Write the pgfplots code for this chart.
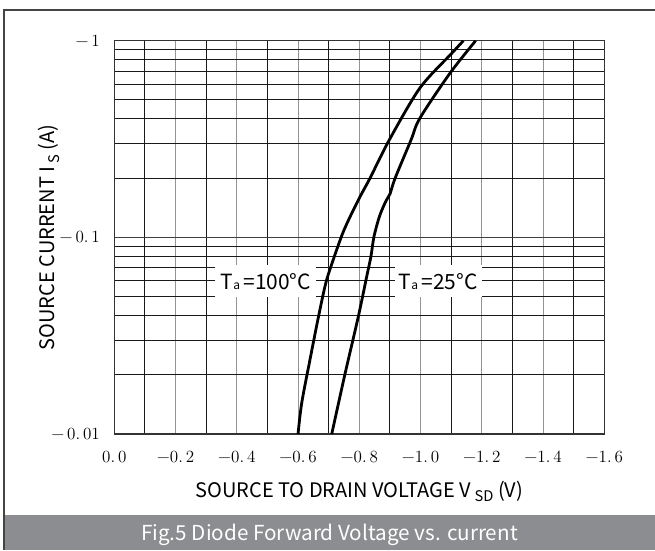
\documentclass[border=0pt]{standalone}
\usepackage{pgfplots}
\pgfplotsset{compat=1.18}
\usepackage{fontspec}
\newfontfamily\cjk{Noto Sans CJK SC}
\definecolor{capgray}{HTML}{8C8D90}
\definecolor{framegray}{HTML}{444444}
\begin{document}
\begin{tikzpicture}
\begin{scope}[x=0.75pt,y=0.75pt]
\useasboundingbox (-114.3,-116) rectangle (540.7,434);
\fill[capgray] (-110.3,-116) rectangle (541,-81);
\draw[framegray,line width=1.1pt] (-110.3,-116) -- (-110.3,424) -- (541,424);
\node[text=white,font={\cjk\fontsize{15.5}{18}\selectfont}] at (215.2,-101) {Fig.5 Diode Forward Voltage vs. current};
\end{scope}
\begin{axis}[
  at={(0,0)}, anchor=south west,
  scale only axis, width=367.5pt, height=295pt,
  xmin=0, xmax=1.6, ymode=log, ymin=0.01, ymax=1,
  xtick={0,0.2,...,1.6},
  xticklabels={0.\,0,−0.\,2,−0.\,4,−0.\,6,−0.\,8,−1.\,0,−1.\,2,−1.\,4,−1.\,6},
  minor x tick num=1,
  ytick={0.01,0.1,1},
  yticklabels={−\,0.\,01,−\,0.\,1,−\,1},
  major tick length=0pt, minor tick length=0pt,
  xmajorgrids, xminorgrids, ymajorgrids, yminorgrids,
  major x grid style={draw=black!42, line width=0.75pt},
  minor x grid style={draw=black!90, line width=0.75pt},
  major y grid style={draw=black!75, line width=0.75pt},
  minor y grid style={draw=black!90, line width=0.75pt},
  axis line style={draw=black!80, line width=0.8pt},
  xticklabel style={anchor=base, yshift=-21pt, font=\rmfamily\fontsize{12.8}{14}\selectfont},
  yticklabel style={anchor=east, inner sep=0pt, xshift=-10.7pt, font=\rmfamily\fontsize{12.8}{14}\selectfont},
  xlabel={{\cjk SOURCE TO DRAIN VOLTAGE V\,\raisebox{-0.45ex}{\fontsize{11}{12}\selectfont SD} (V)}},
  ylabel={{\cjk SOURCE CURRENT I\,\raisebox{-0.45ex}{\fontsize{11}{12}\selectfont S} (A)}},
  every axis x label/.style={at={(axis description cs:0.5,0)}, anchor=base, yshift=-47.25pt, font=\fontsize{15}{17}\selectfont},
  every axis y label/.style={at={(axis description cs:0,0.5)}, rotate=90, anchor=base, yshift=44.5pt, font=\fontsize{15}{17}\selectfont},
]
\addplot[black, line width=2.1pt, smooth, tension=0.5] coordinates {
(0.600,0.0100) (0.612,0.0144) (0.639,0.0239) (0.666,0.0390) (0.688,0.0564)
(0.704,0.0686) (0.748,0.107) (0.797,0.155) (0.835,0.200) (0.898,0.313)
(0.998,0.575) (1.102,0.863) (1.140,1.0)
};
\addplot[black, line width=2.1pt, smooth, tension=0.5] coordinates {
(0.710,0.0100) (0.753,0.0201) (0.797,0.0397) (0.824,0.063) (0.838,0.080)
(0.848,0.101) (0.866,0.128) (0.886,0.152) (0.900,0.166) (0.917,0.200)
(0.969,0.313) (0.998,0.404) (1.096,0.683) (1.180,1.0)
};
\node[fill=white, inner xsep=4pt, minimum height=23.8pt, font={\cjk\fontsize{15.7}{18}\selectfont}] at (axis cs:0.495,0.0598) {T{\fontsize{9}{10}\selectfont a}\,=100°C};
\node[fill=white, inner xsep=3pt, minimum height=23.8pt, font={\cjk\fontsize{15.7}{18}\selectfont}] at (axis cs:1.058,0.0598) {T{\fontsize{9}{10}\selectfont a}\,=25°C};
\end{axis}
\end{tikzpicture}
\end{document}
